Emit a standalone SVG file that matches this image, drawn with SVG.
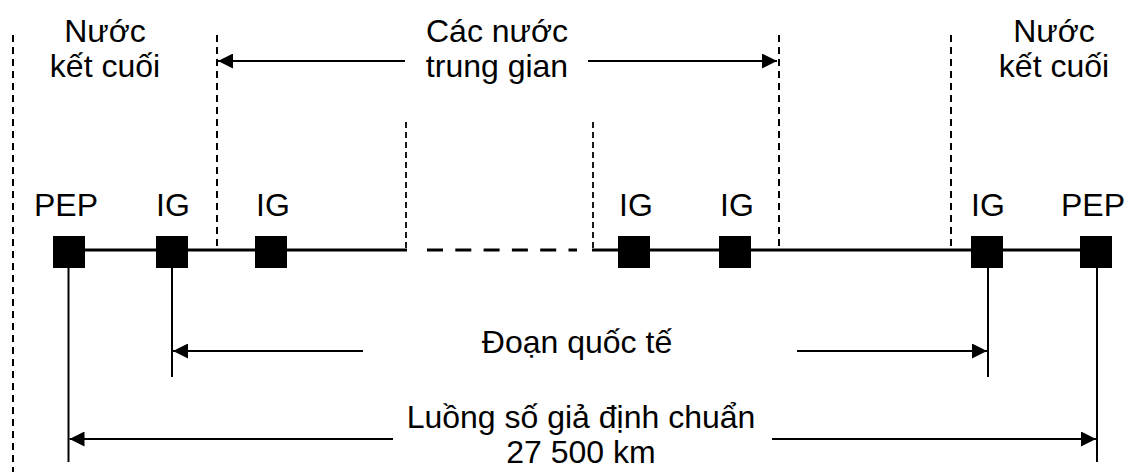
<svg xmlns="http://www.w3.org/2000/svg" width="1145" height="472" viewBox="0 0 1145 472">
  <style>
    text { font-family: "Liberation Sans", Arial, sans-serif; font-size: 32px; fill: #000; text-anchor: middle; }
    .sq { fill: #000; }
    .bound { stroke: #000; stroke-width: 2; stroke-dasharray: 7 5; fill: none; }
    .bound2 { stroke: #000; stroke-width: 1.8; stroke-dasharray: 6 4; fill: none; }
    .trunk { stroke: #000; stroke-width: 3; fill: none; }
    .trunkdash { stroke: #000; stroke-width: 3; stroke-dasharray: 16 12.3; fill: none; }
    .drop { stroke: #000; stroke-width: 2; fill: none; }
    .arrow { stroke: #000; stroke-width: 2; fill: none; marker-end: url(#ah); }
  </style>
  <defs>
    <marker id="ah" markerUnits="userSpaceOnUse" markerWidth="15" markerHeight="15" refX="15" refY="7.5" orient="auto">
      <path d="M0,0 L15,7.5 L0,15 z" fill="#000"/>
    </marker>
  </defs>
  <rect width="1145" height="472" fill="#fff"/>

  <g id="boundaries">
    <line class="bound" x1="13" y1="35" x2="13" y2="472"/>
    <line class="bound" x1="217" y1="35" x2="217" y2="250"/>
    <line class="bound" x1="779" y1="35" x2="779" y2="250"/>
    <line class="bound" x1="951" y1="35" x2="951" y2="250"/>
    <line class="bound2" x1="406" y1="122" x2="406" y2="250"/>
    <line class="bound2" x1="593" y1="122" x2="593" y2="250"/>
  </g>

  <g id="labels">
    <text x="105" y="42">Nước</text>
    <text x="105" y="77">kết cuối</text>
    <text x="497" y="42">Các nước</text>
    <text x="497" y="77">trung gian</text>
    <text x="1054" y="42">Nước</text>
    <text x="1054" y="77">kết cuối</text>
    <text x="577" y="353">Đoạn quốc tế</text>
    <text x="581" y="428">Luồng số giả định chuẩn</text>
    <text x="581" y="463">27 500 km</text>
  </g>

  <g id="connectors">
    <line class="trunk" x1="69" y1="250" x2="407" y2="250"/>
    <line class="trunkdash" x1="427" y1="250" x2="577" y2="250"/>
    <line class="trunk" x1="592" y1="250" x2="1096" y2="250"/>
    <line class="drop" x1="68.5" y1="268" x2="68.5" y2="462"/>
    <line class="drop" x1="172" y1="268" x2="172" y2="377"/>
    <line class="drop" x1="988" y1="268" x2="988" y2="377"/>
    <line class="drop" x1="1097" y1="268" x2="1097" y2="462"/>
    <line class="arrow" x1="405" y1="61" x2="218" y2="61"/>
    <line class="arrow" x1="588" y1="61" x2="777" y2="61"/>
    <line class="arrow" x1="363" y1="351" x2="173" y2="351"/>
    <line class="arrow" x1="797" y1="351" x2="987" y2="351"/>
    <line class="arrow" x1="393" y1="439" x2="69.5" y2="439"/>
    <line class="arrow" x1="772" y1="439" x2="1096" y2="439"/>
  </g>

  <g id="node-pep-left">
    <rect class="sq" x="53" y="236" width="32" height="32"/>
    <text x="66" y="216">PEP</text>
  </g>
  <g id="node-ig-1">
    <rect class="sq" x="156" y="236" width="32" height="32"/>
    <text x="173" y="216">IG</text>
  </g>
  <g id="node-ig-2">
    <rect class="sq" x="255" y="236" width="32" height="32"/>
    <text x="273" y="216">IG</text>
  </g>
  <g id="node-ig-3">
    <rect class="sq" x="618" y="236" width="32" height="32"/>
    <text x="636" y="216">IG</text>
  </g>
  <g id="node-ig-4">
    <rect class="sq" x="719" y="236" width="32" height="32"/>
    <text x="737" y="216">IG</text>
  </g>
  <g id="node-ig-5">
    <rect class="sq" x="971" y="236" width="32" height="32"/>
    <text x="988" y="216">IG</text>
  </g>
  <g id="node-pep-right">
    <rect class="sq" x="1080" y="236" width="32" height="32"/>
    <text x="1093" y="216">PEP</text>
  </g>
</svg>
